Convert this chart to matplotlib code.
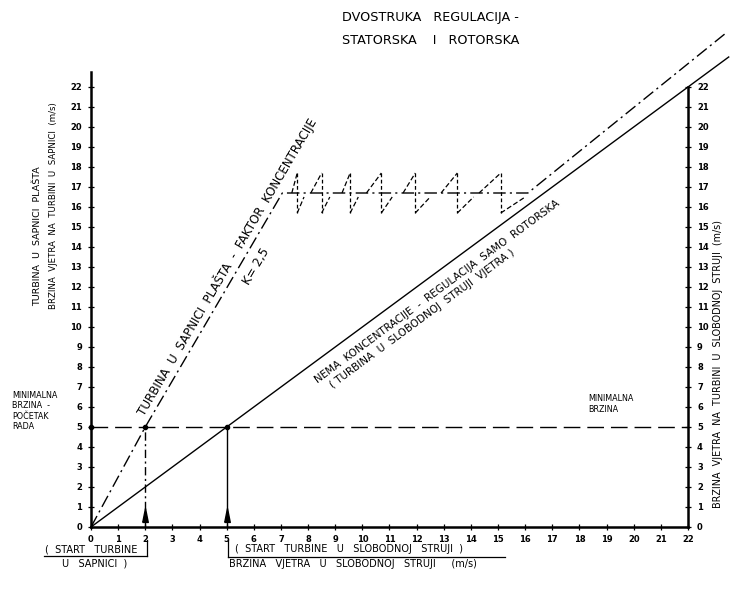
import numpy as np
import matplotlib
matplotlib.use('Agg')
import matplotlib.pyplot as plt

# values (m/s)
ticks = list(range(23))
free_x = [0, 23.5]          # no concentration, turbine in free stream
free_y = [0, 23.5]
conc_x = [0, 2, 7.05, 16.1, 23.4]   # turbine in shroud nozzle, K = 2.5
conc_y = [0, 5, 16.7, 16.7, 24.7]
plateau = 16.7
tooth_top = 17.7
tooth_bot = 15.7
tooth_x = [7.6, 8.5, 9.55, 10.7, 11.95, 13.5, 15.1]
tooth_up = [7.4, 8.1, 9.25, 10.15, 11.5, 12.9, 14.3]
tooth_dn = [7.85, 8.8, 9.85, 11.1, 12.5, 14.1, 16.0]
min_speed = 5
start_nozzle = 2
start_free = 5
right_axis = 22
left_top = 22.75

W, H = 730, 598
x0_px, y0_px = 91, 527
ux, uy = 27.136, 20.0

fig = plt.figure(figsize=(W / 100, H / 100), dpi=100)
ax = fig.add_axes([0, 0, 1, 1])
ax.set_xlim(-x0_px / ux, (W - x0_px) / ux)
ax.set_ylim(-(H - y0_px) / uy, y0_px / uy)
ax.patch.set_alpha(0)

for s in ['left', 'bottom', 'right']:
    ax.spines[s].set_linewidth(1.8)
ax.spines['left'].set_position(('data', 0))
ax.spines['left'].set_bounds(0, left_top)
ax.spines['bottom'].set_position(('data', 0))
ax.spines['bottom'].set_bounds(0, right_axis)
ax.spines['right'].set_position(('data', right_axis))
ax.spines['right'].set_bounds(0, right_axis)
ax.spines['top'].set_visible(False)

ax.set_xticks(ticks)
ax.set_yticks(ticks)
ax.tick_params(axis='both', direction='inout', length=5, width=0.9,
               labelsize=6, pad=3)
ax.tick_params(axis='y', right=True, labelright=True, pad=4)
fig.canvas.draw()
for lbl in ax.get_xticklabels() + ax.get_yticklabels():
    lbl.set_fontweight('bold')

dashdot = (0, (9, 3, 1.5, 3))
lw = 1.0

ax.plot(free_x, free_y, color='black', lw=lw)
ax.plot(conc_x, conc_y, color='black', lw=lw, linestyle=dashdot)

# sawtooth of the stator regulation on the plateau
for x, u, d in zip(tooth_x, tooth_up, tooth_dn):
    ax.plot([u, x], [plateau, tooth_top], color='black', lw=0.9, linestyle=(0, (4, 2)))
    ax.plot([x, x], [tooth_top, tooth_bot], color='black', lw=0.9, linestyle=(0, (3, 2)))
    ax.plot([x, d], [tooth_bot, plateau - 0.2], color='black', lw=0.9, linestyle=(0, (4, 2)))

# minimal speed
ax.plot([0, right_axis], [min_speed, min_speed], color='black', lw=lw,
        linestyle=(0, (12, 5)))
ax.plot([start_nozzle, start_nozzle], [0, min_speed], color='black', lw=lw,
        linestyle=(0, (6, 2.5, 1.5, 2.5)))
ax.plot([start_free, start_free], [0, min_speed], color='black', lw=lw)
ax.plot([0, start_nozzle, start_free], [min_speed] * 3, 'o', color='black', ms=3)
arrow = [(-0.4, -1), (0.4, -1), (0, 1), (-0.4, -1)]
ax.plot([start_nozzle, start_free], [0.6, 0.6], linestyle='none', marker=arrow,
        ms=10, color='black')


def angle_of(slope):
    return np.degrees(np.arctan(slope * uy / ux))


txt = dict(color='black', family='DejaVu Sans')

a_conc = angle_of((conc_y[2] - conc_y[1]) / (conc_x[2] - conc_x[1]))
ax.annotate('TURBINA  U  SAPNICI  PLAŠTA  -  FAKTOR  KONCENTRACIJE',
            xy=(5.33, 12.8), xytext=(-2, 1), textcoords='offset pixels',
            rotation=a_conc, rotation_mode='anchor', ha='center', va='bottom',
            fontsize=8.6, **txt)
ax.annotate('K= 2,5', xy=(5.6, 13.4), xytext=(13, -7), textcoords='offset pixels',
            rotation=a_conc, rotation_mode='anchor', ha='center', va='center',
            fontsize=8.6, **txt)

a_free = angle_of(1.0)
ax.annotate('NEMA  KONCENTRACIJE  -  REGULACIJA  SAMO  ROTORSKA',
            xy=(12.4, 12.4), xytext=(7, -9), textcoords='offset pixels',
            rotation=a_free, rotation_mode='anchor', ha='center', va='top',
            fontsize=7.5, **txt)
ax.annotate('( TURBINA  U  SLOBODNOJ  STRUJI  VJETRA )',
            xy=(11.6, 11.6), xytext=(14, -20), textcoords='offset pixels',
            rotation=a_free, rotation_mode='anchor', ha='center', va='top',
            fontsize=7.5, **txt)

# title and side labels (figure pixel positions)
def fx(px):
    return px / W


def fy(py):
    return 1 - py / H


fig.text(fx(342), fy(18), 'DVOSTRUKA   REGULACIJA -', fontsize=9.2,
         va='center', ha='left', **txt)
fig.text(fx(342), fy(40), 'STATORSKA    I   ROTORSKA', fontsize=9.2,
         va='center', ha='left', **txt)

fig.text(fx(38), fy(236), 'TURBINA  U  SAPNICI  PLAŠTA', rotation=90,
         fontsize=6.8, ha='center', va='center', **txt)
fig.text(fx(54), fy(206), 'BRZINA  VJETRA  NA  TURBINI  U  SAPNICI  (m/s)',
         rotation=90, fontsize=6.2, ha='center', va='center', **txt)
fig.text(fx(718), fy(364), 'BRZINA  VJETRA  NA  TURBINI  U  SLOBODNOJ  STRUJI  (m/s)',
         rotation=90, fontsize=6.9, ha='center', va='center', **txt)

fig.text(fx(12), fy(411), 'MINIMALNA\nBRZINA  -\nPOČETAK\nRADA', fontsize=5.8,
         ha='left', va='center', linespacing=1.15, **txt)
fig.text(fx(588), fy(404), 'MINIMALNA\nBRZINA', fontsize=5.8,
         ha='left', va='center', linespacing=1.15, **txt)

fig.text(fx(45), fy(549), '(  START   TURBINE', fontsize=7, ha='left',
         va='center', **txt)
fig.text(fx(62), fy(563), 'U   SAPNICI  )', fontsize=7, ha='left',
         va='center', **txt)
fig.text(fx(235), fy(549), '(  START   TURBINE   U   SLOBODNOJ   STRUJI  )',
         fontsize=7, ha='left', va='center', **txt)
fig.text(fx(229), fy(564), 'BRZINA   VJETRA   U   SLOBODNOJ   STRUJI     (m/s)',
         fontsize=7, ha='left', va='center', **txt)

# bracket lines under the start labels
br = dict(color='black', lw=0.9, transform=fig.transFigure)
fig.add_artist(plt.Line2D([fx(44), fx(147)], [fy(556), fy(556)], **br))
fig.add_artist(plt.Line2D([fx(147), fx(147)], [fy(540), fy(556)], **br))
fig.add_artist(plt.Line2D([fx(228), fx(505)], [fy(557), fy(557)], **br))
fig.add_artist(plt.Line2D([fx(228), fx(228)], [fy(540), fy(557)], **br))

fig.savefig('out.png', dpi=100, facecolor='white')
